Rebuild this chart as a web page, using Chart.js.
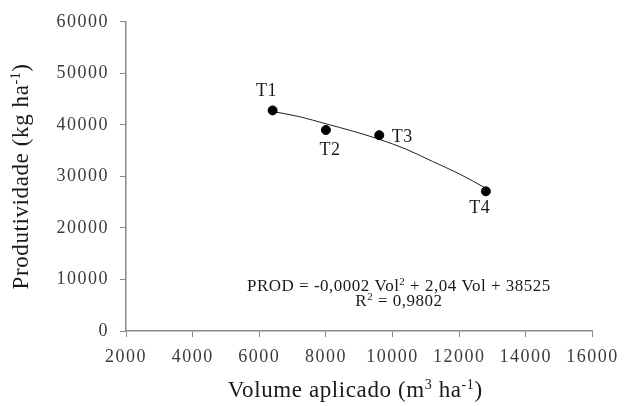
<!DOCTYPE html>
<html>
<head>
<meta charset="utf-8">
<script src="https://cdn.jsdelivr.net/npm/chart.js@4.4.1/dist/chart.umd.min.js"></script>
<style>
  html, body { margin: 0; padding: 0; background: #fff; }
  #wrap { width: 624px; height: 406px; }
</style>
</head>
<body>
<div id="wrap"><canvas id="myChart" width="624" height="406"></canvas></div>
<script>
// tratamentos (pontos observados)
var tratamentos = ['T1', 'T2', 'T3', 'T4'];
var volume = [6400, 8000, 9600, 12800];
var produtividade = [42800, 39000, 38000, 27100];

// linha de tendencia
var curvaVolume = [6400, 7200, 8000, 8800, 9600, 10400, 11200, 12000, 12800];
var curvaProd = [42600, 41600, 40200, 38800, 37200, 35300, 32900, 30500, 27700];

var xTicks = [2000, 4000, 6000, 8000, 10000, 12000, 14000, 16000];
var yTicks = [0, 10000, 20000, 30000, 40000, 50000, 60000];

var serif = '"Liberation Serif", "Times New Roman", serif';
var axisGray = '#8a8a8a';

function drawRich(ctx, parts, size, x, y) {
  // parts: [text, isSup]
  var w = 0;
  parts.forEach(function(p) {
    ctx.font = (p[1] ? Math.round(size * 0.62) : size) + 'px ' + serif;
    w += ctx.measureText(p[0]).width;
  });
  var cx = x - w / 2;
  parts.forEach(function(p) {
    ctx.font = (p[1] ? Math.round(size * 0.62) : size) + 'px ' + serif;
    ctx.fillText(p[0], cx, p[1] ? y - size * 0.36 : y);
    cx += ctx.measureText(p[0]).width;
  });
}

var textPlugin = {
  id: 'textPlugin',
  beforeDraw: function(chart) {
    chart.ctx.letterSpacing = '1.5px';
  },
  afterDraw: function(chart) {
    var ctx = chart.ctx;
    var xs = chart.scales.x, ys = chart.scales.y;
    var area = chart.chartArea;
    ctx.save();
    ctx.textAlign = 'left';
    ctx.textBaseline = 'alphabetic';
    ctx.fillStyle = '#1a1a1a';

    // rotulos dos pontos
    var offs = [[-6, -14], [4, 25], [23, 7], [-6, 22]];
    ctx.letterSpacing = '0.5px';
    tratamentos.forEach(function(t, i) {
      var px = xs.getPixelForValue(volume[i]);
      var py = ys.getPixelForValue(produtividade[i]);
      drawRich(ctx, [[t, false]], 18, px + offs[i][0], py + offs[i][1]);
    });

    // equacao
    var ex = area.left + (area.right - area.left) * 0.585;
    drawRich(ctx, [['PROD = -0,0002 Vol', false], ['2', true], [' + 2,04 Vol + 38525', false]], 17, ex, area.bottom - 40);
    drawRich(ctx, [['R', false], ['2', true], [' = 0,9802', false]], 17, ex, area.bottom - 25);

    // titulos dos eixos
    ctx.letterSpacing = '0.6px';
    drawRich(ctx, [['Volume aplicado (m', false], ['3', true], [' ha', false], ['-1', true], [')', false]], 23,
      (area.left + area.right) / 2 - 4, 397);
    ctx.translate(28, (area.top + area.bottom) / 2);
    ctx.rotate(-Math.PI / 2);
    drawRich(ctx, [['Produtividade (kg ha', false], ['-1', true], [')', false]], 23, 0, 0);
    ctx.restore();
  }
};

var chart = new Chart('myChart', {
  type: 'scatter',
  plugins: [textPlugin],
  data: {
    datasets: [
      {
        data: volume.map(function(v, i) { return { x: v, y: produtividade[i] }; }),
        backgroundColor: '#000',
        borderColor: '#000',
        pointRadius: 4.5,
        pointHoverRadius: 4.5,
        showLine: false,
        order: 1
      },
      {
        data: curvaVolume.map(function(v, i) { return { x: v, y: curvaProd[i] }; }),
        borderColor: '#222',
        borderWidth: 1,
        pointRadius: 0,
        showLine: true,
        cubicInterpolationMode: 'monotone',
        order: 2
      }
    ]
  },
  options: {
    responsive: false,
    animation: false,
    devicePixelRatio: 1,
    layout: { padding: { top: 19, right: 28, bottom: 0, left: 0 } },
    plugins: { legend: { display: false }, tooltip: { enabled: false } },
    scales: {
      x: {
        type: 'linear',
        min: xTicks[0],
        max: xTicks[xTicks.length - 1],
        afterBuildTicks: function(s) { s.ticks = xTicks.map(function(v) { return { value: v }; }); },
        afterFit: function(s) { s.height = 75; },
        grid: { display: true, drawOnChartArea: false, drawTicks: true, tickLength: 6, color: axisGray },
        border: { display: true, color: axisGray, width: 1.5 },
        ticks: {
          autoSkip: false, maxRotation: 0, padding: 9, color: '#3a3a3a',
          font: { family: serif, size: 18 },
          callback: function(v) { return String(v); }
        }
      },
      y: {
        type: 'linear',
        min: yTicks[0],
        max: yTicks[yTicks.length - 1],
        afterBuildTicks: function(s) { s.ticks = yTicks.map(function(v) { return { value: v }; }); },
        afterFit: function(s) { s.width = 126; },
        grid: { display: true, drawOnChartArea: false, drawTicks: true, tickLength: 6, color: axisGray },
        border: { display: true, color: axisGray, width: 1.5 },
        ticks: {
          padding: 11, color: '#3a3a3a',
          font: { family: serif, size: 18 },
          callback: function(v) { return String(v); }
        }
      }
    }
  }
});
</script>
</body>
</html>
